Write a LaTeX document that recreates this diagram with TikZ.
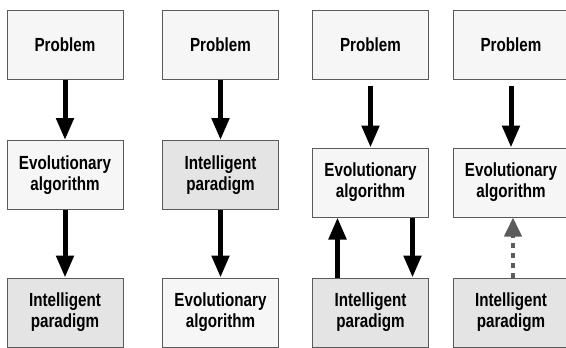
\documentclass[tikz,border=0pt]{standalone}
\usepackage{fontspec}
\setmainfont{Liberation Sans}[FakeStretch=0.8]
\usetikzlibrary{arrows.meta,positioning}
\definecolor{boxline}{HTML}{5A5A5A}
\definecolor{lightfill}{HTML}{F6F6F6}
\definecolor{darkfill}{HTML}{E4E4E4}
\definecolor{hintgray}{HTML}{5C5C5C}
\tikzset{
  stage/.style={draw=boxline,line width=1pt,fill=lightfill,minimum width=116pt,minimum height=69pt,inner sep=0pt,align=center,font=\bfseries\fontsize{19}{21}\selectfont},
  smart/.style={stage,fill=darkfill},
  flow/.style={line width=5pt,-{Triangle[length=22pt,width=17pt]}},
  hint/.style={flow,draw=hintgray,line width=4pt,dash pattern=on 5pt off 5pt,-{Triangle[length=19pt,width=17pt,fill=hintgray]}}
}
\begin{document}
\begin{tikzpicture}[x=1pt,y=-1pt]
  \useasboundingbox (0,0) rectangle (566,348);
  %% problem row
  \foreach \x/\n in {65/1,220.5/2,370.5/3,511/4} \node[stage] (p\n) at (\x,44.5) {Problem};
  %% middle row
  \node[stage] (e1) at (65,175) {Evolutionary\\algorithm};
  \node[smart] (i2) at (220.5,175) {Intelligent\\paradigm};
  \node[stage] (e3) at (370.5,182.5) {Evolutionary\\algorithm};
  \node[stage] (e4) at (511,182.5) {Evolutionary\\algorithm};
  %% bottom row
  \node[smart] (i1) at (65,312.5) {Intelligent\\paradigm};
  \node[stage] (e2) at (220.5,312.5) {Evolutionary\\algorithm};
  \node[smart] (i3) at (370.5,312.5) {Intelligent\\paradigm};
  \node[smart] (i4) at (511,312.5) {Intelligent\\paradigm};
  %% arrows
  \draw[flow] (p1) -- (e1);
  \draw[flow] (e1) -- (i1);
  \draw[flow] (p2) -- (i2);
  \draw[flow] (i2) -- (e2);
  \foreach \n in {3,4} \draw[flow] ([yshift=-6pt]p\n.south) -- (e\n.north);
  \draw[flow] ([xshift=-33pt]i3.north) -- ([xshift=-33pt]e3.south);
  \draw[flow] ([xshift=42pt]e3.south) -- ([xshift=42pt]i3.north);
  \draw[hint] ([xshift=2pt]i4.north) -- ([xshift=2pt]e4.south);
\end{tikzpicture}
\end{document}
